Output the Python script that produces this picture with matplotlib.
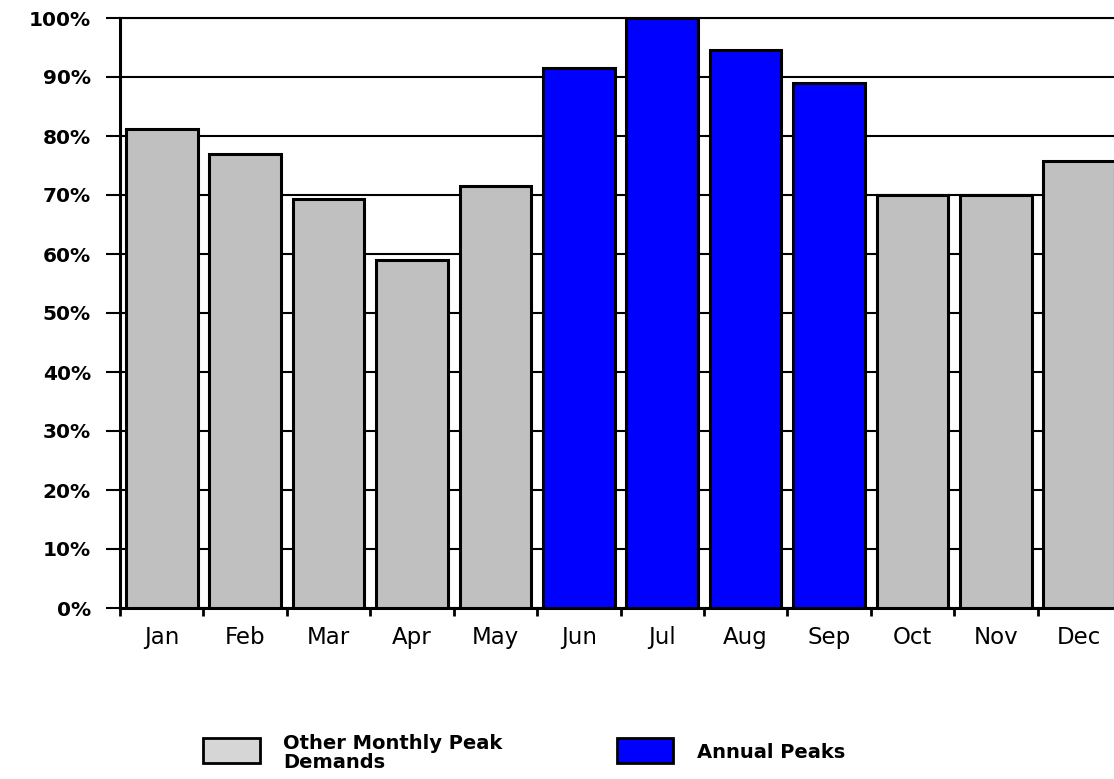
import matplotlib
matplotlib.use('Agg')
import matplotlib.pyplot as plt
from matplotlib.patches import Rectangle
import numpy as np

# data
months = ['Jan', 'Feb', 'Mar', 'Apr', 'May', 'Jun', 'Jul', 'Aug', 'Sep', 'Oct', 'Nov', 'Dec']
peak_pct = [81.2, 77.0, 69.3, 59.0, 71.5, 91.6, 100.0, 94.5, 89.0, 70.0, 70.0, 75.8]
is_annual = [False, False, False, False, False, True, True, True, True, False, False, False]
y_ticks = [0, 10, 20, 30, 40, 50, 60, 70, 80, 90, 100]

C_OTHER = '#c0c0c0'
C_OTHER_LEG = '#d6d6d6'
C_ANNUAL = '#0000ff'

fig = plt.figure(figsize=(11.14, 7.79), dpi=100)
W, H = 1114, 779
# axes: x 120..1121 px, y 18..608 px (right edge runs off the picture)
ax = fig.add_axes([120 / W, 1 - 608 / H, 1001 / W, 590 / H])

x = np.arange(len(months))
colors = [C_ANNUAL if a else C_OTHER for a in is_annual]
ax.bar(x, peak_pct, width=0.86, color=colors, edgecolor='black', linewidth=2.2, zorder=3)

ax.set_xlim(-0.5, len(months) - 0.5)
ax.set_ylim(0, 100)

ax.set_yticks(y_ticks)
ax.set_yticklabels([f'{v}%' for v in y_ticks], fontsize=14.5, fontweight='bold',
                   family='DejaVu Sans')
ax.yaxis.grid(True, color='black', linewidth=1.5, zorder=0)
ax.set_axisbelow(True)

ax.set_xticks(x)
ax.set_xticklabels(months, fontsize=16.5, family='DejaVu Sans')
ax.set_xticks(np.arange(len(months)) - 0.5, minor=True)
ax.tick_params(axis='x', which='major', length=0, pad=13)
ax.tick_params(axis='x', which='minor', length=6, width=2, direction='out')
ax.tick_params(axis='y', which='major', length=10, width=1.5, pad=11)

ax.spines['right'].set_visible(False)
ax.spines['top'].set_linewidth(1.5)
ax.spines['left'].set_linewidth(2.2)
ax.spines['bottom'].set_linewidth(2.2)

# legend (drawn by hand below the chart)
fig.add_artist(Rectangle((203 / W, 1 - 763 / H), 57 / W, 25 / H, transform=fig.transFigure,
                         facecolor=C_OTHER_LEG, edgecolor='black', linewidth=2))
fig.text(283 / W, 1 - 753 / H, 'Other Monthly Peak\nDemands', fontsize=14, fontweight='bold',
         family='DejaVu Sans', va='center', ha='left', linespacing=0.95)
fig.add_artist(Rectangle((617 / W, 1 - 763 / H), 56 / W, 25 / H, transform=fig.transFigure,
                         facecolor=C_ANNUAL, edgecolor='black', linewidth=2))
fig.text(697 / W, 1 - 752 / H, 'Annual Peaks', fontsize=14, fontweight='bold',
         family='DejaVu Sans', va='center', ha='left')

fig.savefig('out.png', dpi=100)
